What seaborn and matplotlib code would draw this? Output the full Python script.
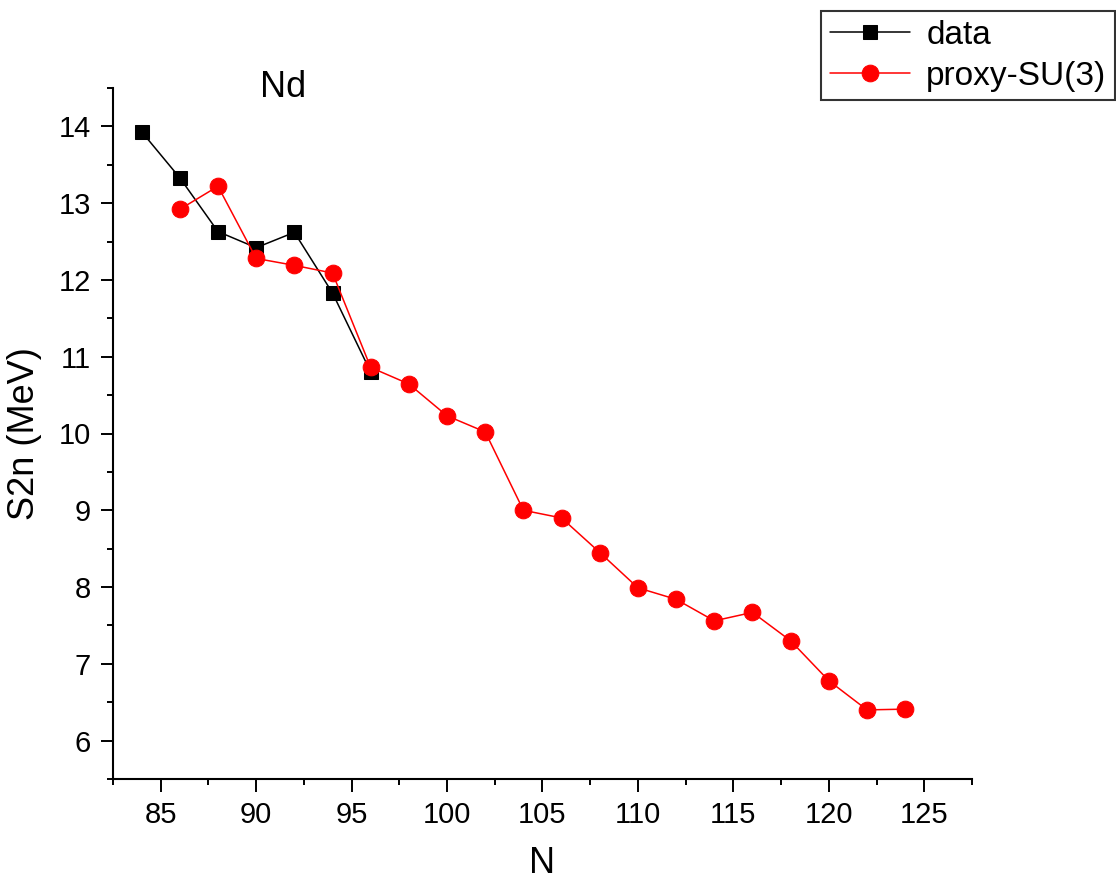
import matplotlib
matplotlib.use("Agg")
import matplotlib.pyplot as plt
import seaborn as sns
import pandas as pd
from matplotlib.ticker import MultipleLocator

# Two-neutron separation energies for Nd isotopes
n_data = [84, 86, 88, 90, 92, 94, 96]
s2n_data = [13.93, 13.33, 12.63, 12.42, 12.62, 11.83, 10.80]

n_proxy = [86, 88, 90, 92, 94, 96, 98, 100, 102, 104, 106, 108, 110,
           112, 114, 116, 118, 120, 122, 124]
s2n_proxy = [12.92, 13.22, 12.28, 12.19, 12.09, 10.86, 10.645, 10.23, 10.02,
             9.00, 8.90, 8.45, 7.99, 7.84, 7.56, 7.67, 7.30, 6.78, 6.40, 6.41]

series_names = ["data", "proxy-SU(3)"]
element = "Nd"
x_label = "N"
y_label = "S2n (MeV)"

df_data = pd.DataFrame({"N": n_data, "S2n": s2n_data})
df_proxy = pd.DataFrame({"N": n_proxy, "S2n": s2n_proxy})

sns.set_style("ticks")
plt.rcParams["font.family"] = ["Liberation Sans", "DejaVu Sans"]
plt.rcParams["text.color"] = "black"
plt.rcParams["axes.labelcolor"] = "black"

fig = plt.figure(figsize=(11.16, 8.84), dpi=100)
ax = fig.add_axes([113 / 1116, 1 - 779 / 884, (972 - 113) / 1116, (779 - 88) / 884])

sns.lineplot(data=df_data, x="N", y="S2n", ax=ax, color="black", marker="s",
             markersize=10.5, markeredgecolor="black", linewidth=1.1,
             label=series_names[0])
sns.lineplot(data=df_proxy, x="N", y="S2n", ax=ax, color="red", marker="o",
             markersize=12, markeredgecolor="red", linewidth=1.1,
             label=series_names[1])

ax.set_xlim(82.5, 127.5)
ax.set_ylim(5.5, 14.5)
ax.xaxis.set_major_locator(MultipleLocator(5))
ax.xaxis.set_minor_locator(MultipleLocator(2.5))
ax.yaxis.set_major_locator(MultipleLocator(1))
ax.yaxis.set_minor_locator(MultipleLocator(0.5))

for side in ("top", "right"):
    ax.spines[side].set_visible(False)
for side in ("left", "bottom"):
    ax.spines[side].set_linewidth(1.5)
    ax.spines[side].set_color("black")

ax.tick_params(which="major", direction="out", length=9, width=1.4,
               labelsize=21, colors="black", labelcolor="black", pad=7)
ax.tick_params(which="minor", direction="out", length=4.5, width=1.4,
               colors="black")

ax.set_xlabel(x_label, fontsize=26, labelpad=12, color="black")
ax.set_ylabel(y_label, fontsize=26, labelpad=12, color="black")

ax.text(91.4, 14.38, element, fontsize=26, ha="center", va="baseline",
        color="black")

ax.get_legend().remove()
handles, labels = ax.get_legend_handles_labels()
leg = fig.legend(handles, labels, loc="upper right",
                 bbox_to_anchor=(0.999, 0.987), fontsize=24, frameon=True,
                 fancybox=False, borderaxespad=0, handlelength=2.4,
                 handletextpad=0.5, borderpad=0.25, labelspacing=0.3)
leg.get_frame().set_edgecolor("black")
leg.get_frame().set_linewidth(1.5)
for t in leg.get_texts():
    t.set_color("black")

fig.savefig("out.png", dpi=100, facecolor="white")
